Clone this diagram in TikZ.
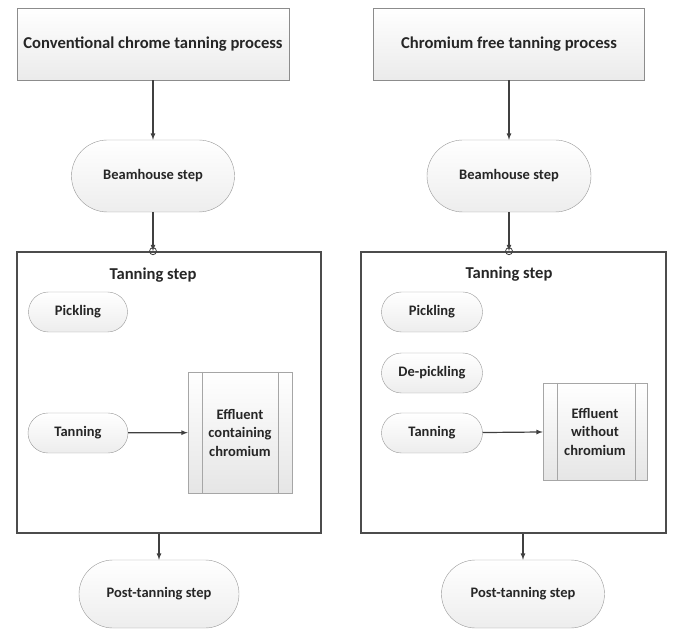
\documentclass[tikz,border=0pt]{standalone}
\usepackage{fontspec}
\setmainfont{Carlito}
\usetikzlibrary{arrows.meta}

\tikzset{
  txt/.style={text=black!85, font=\bfseries\fontsize{14.5}{18.5}\selectfont, align=center, inner sep=0pt},
  big/.style={font=\bfseries\fontsize{16.6}{19}\selectfont},
  title/.style={txt, big, draw=black!45, top color=white, bottom color=black!8, minimum width=272pt, minimum height=72pt},
  oval/.style={txt, draw=black!40, top color=white, bottom color=black!7, rounded corners=#1},
  frame/.style={draw=black!70, line width=1.6pt, minimum width=304pt, minimum height=281pt},
  effluent/.style={txt, draw=black!35, top color=white, bottom color=black!10, minimum width=104pt},
  conn/.style={->, draw=black!75, line width=1.2pt}
}

\begin{document}
\begin{tikzpicture}[>=latex, x=1pt, y=-1pt]
  \useasboundingbox (0,0) rectangle (673,631);
  % conventional chrome tanning
  \node[title] (a) at (153,44) {Conventional chrome tanning process};
  \node[oval=36pt, minimum width=163pt, minimum height=72pt] (b) at (153,176) {Beamhouse step};
  \node[frame] (c) at (169,392.5) {};
  \node[txt, big] (l1) at (153,275) {Tanning step};
  \node[oval=20pt, minimum width=99pt, minimum height=40pt] (d) at (78,312) {Pickling};
  \node[oval=20pt, minimum width=100pt, minimum height=40pt] (e) at (78,433) {Tanning};
  \node[effluent, minimum height=121pt] (f) at (240,432.5) {Effluent\\containing\\chromium};
  \node[oval=34pt, minimum width=160pt, minimum height=68pt] (g) at (159,594) {Post-tanning step};
  \draw[black!35] ([xshift=14pt]f.north west) -- ([xshift=14pt]f.south west);
  \draw[black!35] ([xshift=-14pt]f.north east) -- ([xshift=-14pt]f.south east);
  \draw[conn] (a) -- (b);
  \draw[conn] (b) -- (b |- c.north);
  \draw[black!75, line width=0.8pt] (b |- c.north) circle (3.5pt);
  \draw[conn] (e) -- (f);
  \draw[conn] (g |- c.south) -- (g);
  % chromium free tanning
  \node[title, minimum width=271pt] (p) at (509,44) {Chromium free tanning process};
  \node[oval=36pt, minimum width=164pt, minimum height=72pt] (q) at (509,176) {Beamhouse step};
  \node[frame, minimum width=305pt] (r) at (513.5,392.5) {};
  \node[txt, big] (l2) at (509,274) {Tanning step};
  \node[oval=20pt, minimum width=101pt, minimum height=40pt] (s) at (432,312) {Pickling};
  \node[oval=20pt, minimum width=101pt, minimum height=40pt] (t) at (432,373) {De-pickling};
  \node[oval=20pt, minimum width=101pt, minimum height=40pt] (u) at (432,433) {Tanning};
  \node[effluent, minimum height=97pt] (v) at (595,431.5) {Effluent\\without\\chromium};
  \node[oval=34pt, minimum width=163pt, minimum height=68pt] (w) at (523,594) {Post-tanning step};
  \draw[black!35] ([xshift=14pt]v.north west) -- ([xshift=14pt]v.south west);
  \draw[black!35] ([xshift=-12pt]v.north east) -- ([xshift=-12pt]v.south east);
  \draw[conn] (p) -- (q);
  \draw[conn] (q) -- (q |- r.north);
  \draw[black!75, line width=0.8pt] (q |- r.north) circle (3.5pt);
  \draw[conn] (u) -- (v);
  \draw[conn] (w |- r.south) -- (w);
\end{tikzpicture}
\end{document}
